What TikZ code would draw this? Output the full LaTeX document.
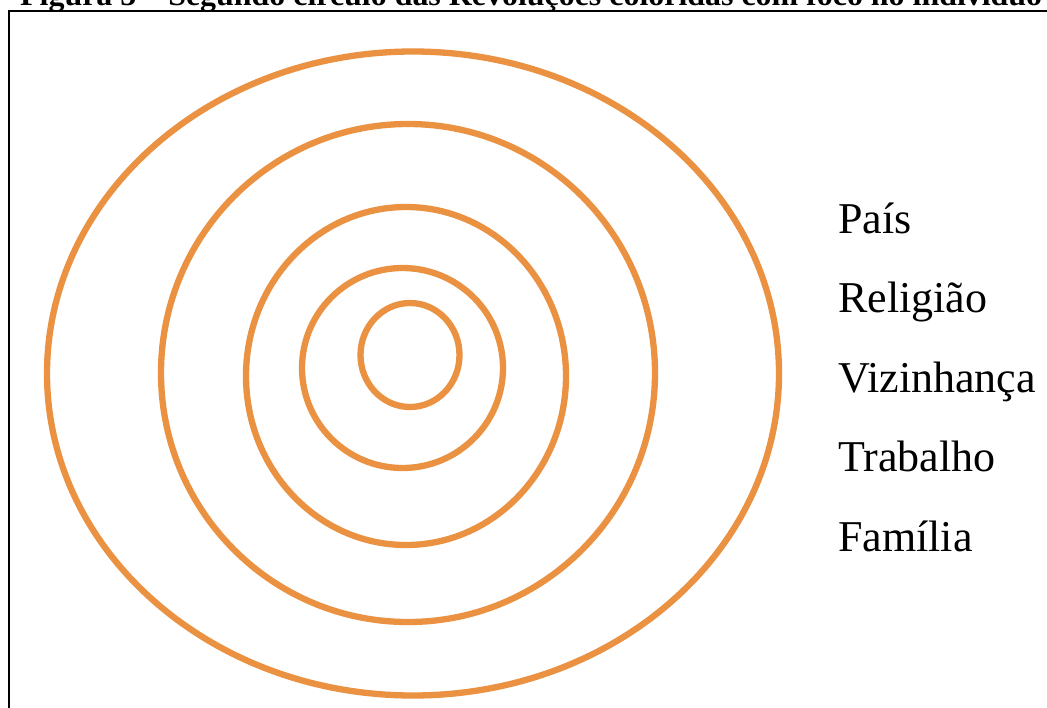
\documentclass[tikz,border=0pt]{standalone}
\usepackage{fontspec}
\setmainfont{Liberation Serif}
\usepackage{graphicx}
\definecolor{ringorange}{HTML}{EA9142}
\tikzset{
  ring/.style={draw=ringorange, line width=6.3pt},
  lab/.style={anchor=base west, inner sep=0pt, font=\fontsize{44}{52}\selectfont},
  frameline/.style={draw=black, line width=2.2pt}
}
\begin{document}
\begin{tikzpicture}[x=1pt,y=-1pt]
\useasboundingbox (0,0) rectangle (1047,707);
\clip (0,0) rectangle (1047,707);
\fill[white] (0,0) rectangle (1047,707);
% title (cut off at top)
\node[anchor=base west, inner sep=0pt] (title) at (20,5)
  {\resizebox{1022pt}{\height}{\fontsize{31}{36}\selectfont\bfseries Figura 5 -- Segundo círculo das Revoluções coloridas com foco no indivíduo}};
% frame
\draw[frameline] (9,720) -- (9,11) -- (1060,11);
% rings
\draw[ring] (413,373.5) ellipse [x radius=366pt, y radius=322pt];
\draw[ring] (408,373) ellipse [x radius=247pt, y radius=249pt];
\draw[ring] (406,376) ellipse [x radius=160pt, y radius=169pt];
\draw[ring] (402.5,368) ellipse [x radius=100.5pt, y radius=100pt];
\draw[ring] (410,355) ellipse [x radius=49.5pt, y radius=52pt];
% labels
\node[lab] (pais) at (838,233) {País};
\node[lab] (religiao) at (838,312) {Religião};
\node[lab] (vizinhanca) at (838,392) {Vizinhança};
\node[lab] (trabalho) at (838,471) {Trabalho};
\node[lab] (familia) at (838,551) {Família};
\end{tikzpicture}
\end{document}
